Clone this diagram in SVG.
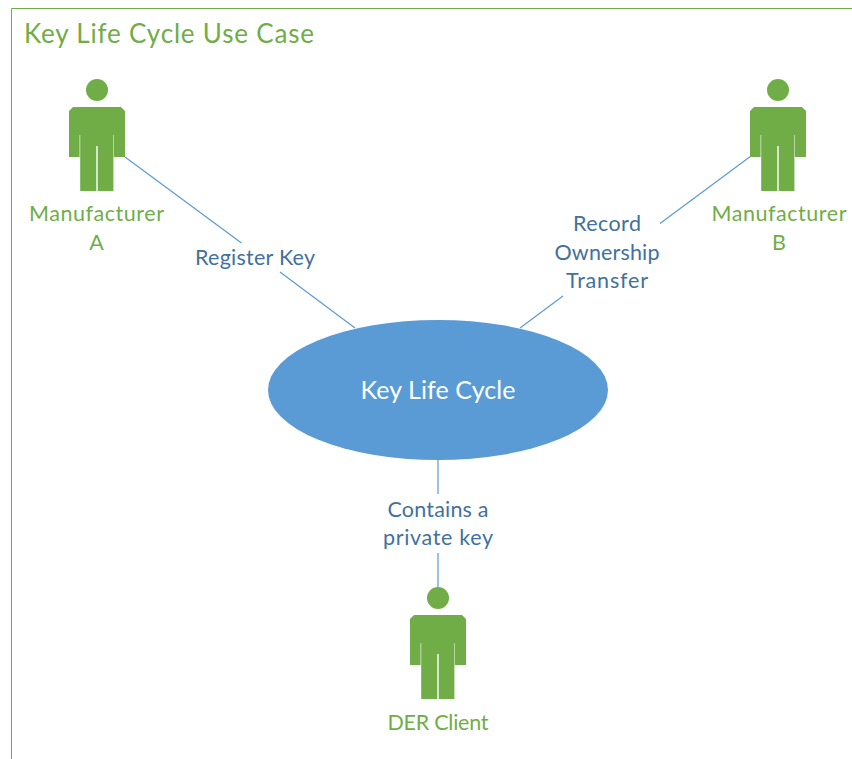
<svg xmlns="http://www.w3.org/2000/svg" width="852" height="759" viewBox="0 0 852 759">
<style>
text{font-family:Lato,"Open Sans","Liberation Sans",sans-serif;text-anchor:middle}
.g{fill:#70AD47}
.t{font-size:21.500px;fill:#70AD47}
.l{font-size:21.500px;fill:#41719C}
.c{stroke:#5B9BD5;stroke-width:1.200;fill:none}
</style>
<defs>
<g id="person"><circle cx="97" cy="90" r="11" class="g"/><path class="g" d="M73 107H121L125 111V157H113.900V135H113.400V191H97.700V146H96.300V191H80.200V135H79.600V157H69V111Z"/></g>
</defs>
<rect width="852" height="759" fill="#fff"/>
<g id="frame"><path d="M11.500 759V8.500H852" fill="none" stroke="#70AD47" stroke-width="1"/><text x="24" y="42.500" style="text-anchor:start;font-size:26px" fill="#70AD47" textLength="290" lengthAdjust="spacing">Key Life Cycle Use Case</text></g>
<g id="connectors">
<path class="c" d="M125 157L241.500 243M280 272L355 328M751 156L660 223.500M563 296L520 328M438 460V494M438 553V587"/>
</g>
<g id="usecase"><ellipse cx="438" cy="390" rx="170" ry="70" fill="#5B9BD5"/><text x="438" y="398.500" font-size="25" fill="#fff" textLength="155" lengthAdjust="spacing">Key Life Cycle</text></g>
<g id="manufacturer-a"><use href="#person"/><text class="t" x="96.500" y="221" textLength="135">Manufacturer</text><text class="t" x="96.500" y="250">A</text></g>
<g id="manufacturer-b"><use href="#person" x="681"/><text class="t" x="779" y="221" textLength="135">Manufacturer</text><text class="t" x="779" y="250">B</text></g>
<g id="der-client"><use href="#person" x="341" y="508"/><text class="t" x="438" y="729.500" textLength="101">DER Client</text></g>
<g id="label-register"><text class="l" x="255" y="265" textLength="120">Register Key</text></g>
<g id="label-record"><text class="l" x="607" y="231" textLength="68">Record</text><text class="l" x="607" y="260" textLength="105">Ownership</text><text class="l" x="607" y="288" textLength="82">Transfer</text></g>
<g id="label-contains"><text class="l" x="438" y="517" textLength="101">Contains a</text><text class="l" x="438" y="545" textLength="110">private key</text></g>
</svg>
